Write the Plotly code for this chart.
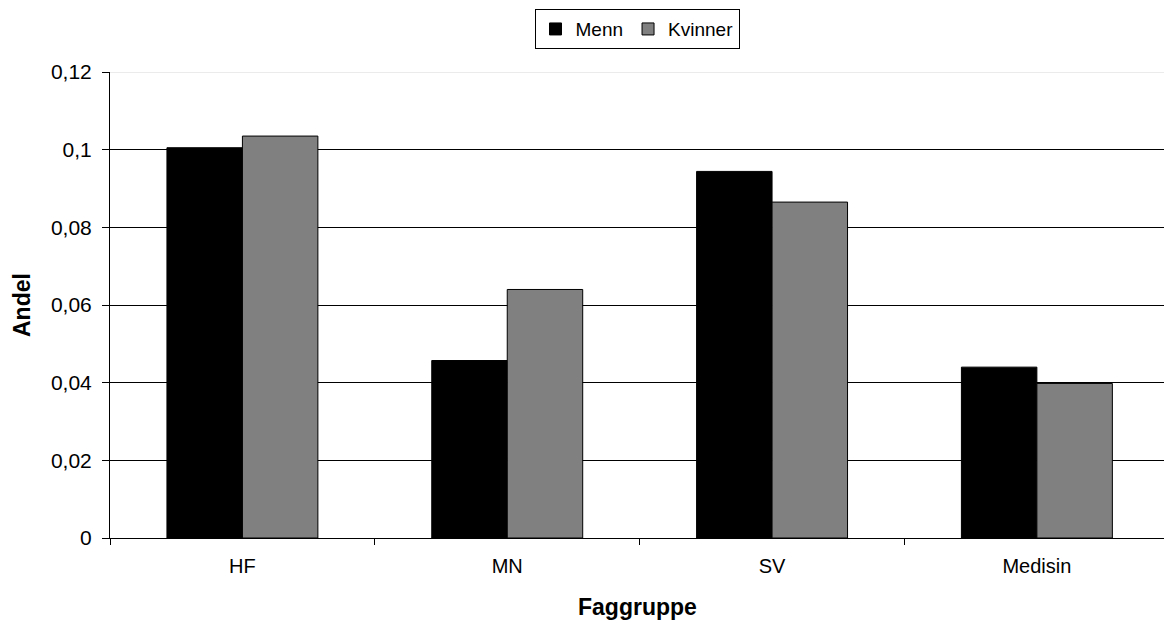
import plotly.graph_objects as go

categories = ["HF", "MN", "SV", "Medisin"]
menn = [0.1005, 0.0457, 0.0944, 0.0440]
kvinner = [0.1035, 0.0640, 0.0865, 0.0398]
y_tickvals = [0, 0.02, 0.04, 0.06, 0.08, 0.1, 0.12]
y_ticktext = ["0", "0,02", "0,04", "0,06", "0,08", "0,1", "0,12"]
x_title = "Faggruppe"
y_title = "Andel"

FONT = "Liberation Sans, Arial, sans-serif"

fig = go.Figure()
fig.add_trace(go.Bar(name="Menn", x=categories, y=menn,
                     marker=dict(color="#000000", line=dict(color="#000000", width=1))))
fig.add_trace(go.Bar(name="Kvinner", x=categories, y=kvinner,
                     marker=dict(color="#808080", line=dict(color="#000000", width=1))))

fig.update_layout(
    width=1164, height=623,
    margin=dict(l=110, r=0, t=72, b=85, autoexpand=False),
    paper_bgcolor="white", plot_bgcolor="white",
    font=dict(family=FONT, size=20, color="black"),
    barmode="group", bargap=0.43, bargroupgap=0,
    showlegend=True,
    legend=dict(orientation="h", x=0.5, xanchor="center", y=1.135, yanchor="top",
                bordercolor="black", borderwidth=1, font=dict(size=19),
                itemwidth=30, tracegroupgap=0),
)
fig.update_xaxes(
    range=[-0.5, 3.48], showline=True, linecolor="black", linewidth=1,
    ticks="outside", tickson="boundaries", ticklen=6, tickcolor="black",
    tickfont=dict(size=20), ticklabelstandoff=10, automargin=False,
    showgrid=False,
)
fig.update_yaxes(
    range=[0, 0.12], tickvals=y_tickvals, ticktext=y_ticktext,
    showline=True, linecolor="black", linewidth=1,
    ticks="outside", ticklen=7, tickcolor="black",
    tickfont=dict(size=21), ticklabelstandoff=6, automargin=False,
    showgrid=True, gridcolor="black", gridwidth=1,
    zeroline=False,
)
fig.add_shape(type="line", xref="paper", yref="y", x0=0, x1=1, y0=0.12, y1=0.12,
              line=dict(color="#d8d8d8", width=1), layer="above")
fig.add_annotation(text="<b>" + x_title + "</b>", xref="paper", yref="paper",
                   x=(637 - 110) / 1054, y=-(607 - 538) / 466, xanchor="center", yanchor="middle",
                   showarrow=False, font=dict(size=23))
fig.add_annotation(text="<b>" + y_title + "</b>", xref="paper", yref="paper",
                   x=-(110 - 22) / 1054, y=(538 - 305) / 466, xanchor="center", yanchor="middle",
                   textangle=-90, showarrow=False, font=dict(size=23))
fig.write_html("out.html", config={"displayModeBar": False},
               post_script="document.body.style.margin='0';document.body.style.overflow='hidden';")
